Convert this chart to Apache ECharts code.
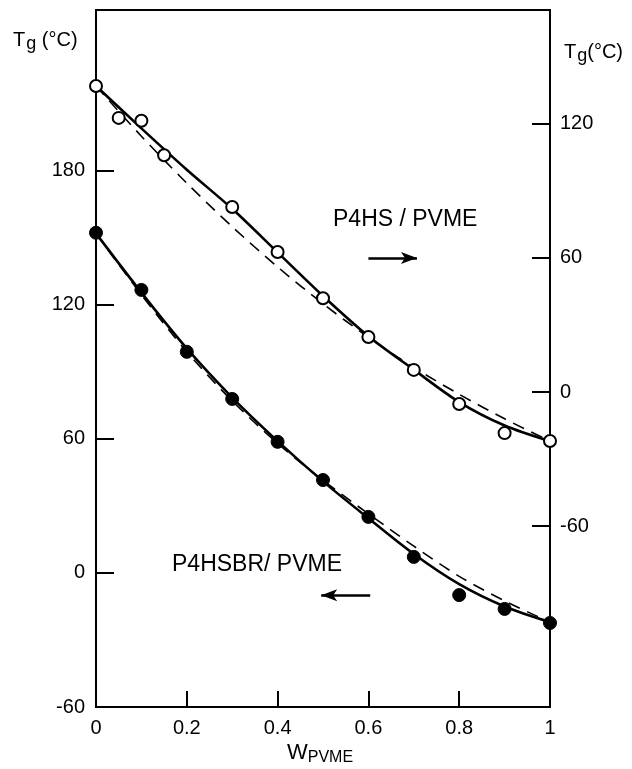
<!DOCTYPE html>
<html>
<head>
<meta charset="utf-8">
<script src="https://cdn.jsdelivr.net/npm/echarts@6/dist/echarts.min.js"></script>
<style>
html,body{margin:0;padding:0;background:#fff;}
#chart{width:632px;height:769px;}
</style>
</head>
<body>
<div id="chart"></div>
<script>
// Weight fraction of PVME
const wPVME = [0, 0.1, 0.2, 0.3, 0.4, 0.5, 0.6, 0.7, 0.8, 0.9, 1.0];

// P4HS / PVME measured points (right axis, Tg °C)
const p4hsX = [0, 0.05, 0.10, 0.15, 0.30, 0.40, 0.50, 0.60, 0.70, 0.80, 0.90, 1.00];
const p4hsTg = [137, 122.7, 121.4, 106, 82.8, 62.7, 42, 24.6, 9.9, -5.4, -18.4, -21.9];
// P4HS / PVME fitted curves
const p4hsSolid = [137, 118, 99.5, 82, 62.5, 43, 25, 10, -4.5, -15, -22];
const p4hsDashed = [137, 114.5, 93.5, 74, 56, 39.5, 24.5, 11, -1, -12, -22];

// P4HSBR / PVME measured points (left axis, Tg °C)
const brX = [0, 0.1, 0.2, 0.3, 0.4, 0.5, 0.6, 0.7, 0.8, 0.9, 1.0];
const brTg = [152.3, 126.7, 99, 77.9, 58.7, 41.6, 25.1, 7.2, -9.9, -16.1, -22.4];
// P4HSBR / PVME fitted curves
const brSolid = [152, 125.5, 100.5, 78.5, 59, 41, 24.5, 8.5, -5, -15, -22];
const brDashed = [152, 124.5, 99, 77, 58, 41.5, 26.5, 12, -1.5, -12.5, -22];

// Tick labels
const xTicks = [0, 0.2, 0.4, 0.6, 0.8, 1];
const leftTicks = [-60, 0, 60, 120, 180];
const rightTicks = [-60, 0, 60, 120];

const zip = (xs, ys) => xs.map((x, i) => [x, ys[i]]);

const FONT = 'Liberation Sans';
const chart = echarts.init(document.getElementById('chart'), null, {renderer: 'canvas'});

const option = {
  animation: false,
  backgroundColor: '#fff',
  grid: {left: 96, right: 82, top: 10, bottom: 62, show: true, borderColor: '#000', borderWidth: 2},
  xAxis: {
    type: 'value', min: 0, max: 1, interval: 0.2,
    axisLine: {show: true, onZero: false, lineStyle: {color: '#000', width: 2}},
    axisTick: {show: true, inside: true, length: 16, lineStyle: {color: '#000', width: 2}},
    axisLabel: {color: '#000', fontFamily: FONT, fontSize: 20, margin: 11,
      formatter: v => xTicks.includes(Math.round(v * 10) / 10) ? String(Math.round(v * 10) / 10) : ''},
    splitLine: {show: false}
  },
  yAxis: [
    {
      type: 'value', min: -60, max: 252, position: 'left',
      axisLine: {show: true, onZero: false, lineStyle: {color: '#000', width: 2}},
      axisTick: {show: true, inside: true, length: 18, lineStyle: {color: '#000', width: 2}, customValues: leftTicks},
      axisLabel: {color: '#000', fontFamily: FONT, fontSize: 20, margin: 11, customValues: leftTicks},
      splitLine: {show: false}
    },
    {
      type: 'value', min: -141, max: 171, position: 'right',
      axisLine: {show: true, onZero: false, lineStyle: {color: '#000', width: 2}},
      axisTick: {show: true, inside: true, length: 18, lineStyle: {color: '#000', width: 2}, customValues: rightTicks},
      axisLabel: {color: '#000', fontFamily: FONT, fontSize: 20, margin: 10, customValues: rightTicks},
      splitLine: {show: false}
    }
  ],
  series: [
    {
      type: 'line', yAxisIndex: 1, data: zip(wPVME, p4hsDashed), smooth: 0.3, showSymbol: false,
      lineStyle: {color: '#000', width: 1.6, type: [12, 8]}, z: 2
    },
    {
      type: 'line', yAxisIndex: 1, data: zip(wPVME, p4hsSolid), smooth: 0.3, showSymbol: false,
      lineStyle: {color: '#000', width: 2.6}, z: 3,
      markLine: {
        silent: true, symbol: ['none', 'arrow'], symbolSize: [9, 16],
        label: {show: false},
        lineStyle: {color: '#000', width: 2.5, type: 'solid'},
        data: [[{coord: [0.6, 60]}, {coord: [0.707, 60]}]]
      }
    },
    {
      type: 'scatter', yAxisIndex: 1, data: zip(p4hsX, p4hsTg), symbol: 'circle', symbolSize: 12,
      itemStyle: {color: '#fff', borderColor: '#000', borderWidth: 2, opacity: 1}, z: 5
    },
    {
      type: 'line', yAxisIndex: 0, data: zip(wPVME, brDashed), smooth: 0.3, showSymbol: false,
      lineStyle: {color: '#000', width: 1.6, type: [12, 8]}, z: 2
    },
    {
      type: 'line', yAxisIndex: 0, data: zip(wPVME, brSolid), smooth: 0.3, showSymbol: false,
      lineStyle: {color: '#000', width: 2.6}, z: 3,
      markLine: {
        silent: true, symbol: ['none', 'arrow'], symbolSize: [9, 16],
        label: {show: false},
        lineStyle: {color: '#000', width: 2.5, type: 'solid'},
        data: [[{coord: [0.604, -10]}, {coord: [0.496, -10]}]]
      }
    },
    {
      type: 'scatter', yAxisIndex: 0, data: zip(brX, brTg), symbol: 'circle', symbolSize: 13,
      itemStyle: {color: '#000', borderColor: '#000', borderWidth: 1, opacity: 1}, z: 5
    }
  ],
  graphic: [
    {
      type: 'text', left: 13, top: 30,
      style: {
        rich: {
          t: {fontFamily: FONT, fontSize: 20, fill: '#000'},
          g: {fontFamily: FONT, fontSize: 18, fill: '#000', padding: [8, 0, 0, 1]}
        },
        text: '{t|T}{g|g}{t| (°C)}'
      }
    },
    {
      type: 'text', left: 564, top: 42,
      style: {
        rich: {
          t: {fontFamily: FONT, fontSize: 20, fill: '#000'},
          g: {fontFamily: FONT, fontSize: 18, fill: '#000', padding: [8, 0, 0, 1]}
        },
        text: '{t|T}{g|g}{t|(°C)}'
      }
    },
    {
      type: 'text', left: 287, top: 742,
      style: {
        rich: {
          w: {fontFamily: FONT, fontSize: 22, fill: '#000'},
          s: {fontFamily: FONT, fontSize: 16, fill: '#000', padding: [9, 0, 0, 0]}
        },
        text: '{w|W}{s|PVME}'
      }
    },
    {
      type: 'text', left: 333, top: 208,
      style: {text: 'P4HS / PVME', fontFamily: FONT, fontSize: 23, fill: '#000'}
    },
    {
      type: 'text', left: 172, top: 553,
      style: {text: 'P4HSBR/ PVME', fontFamily: FONT, fontSize: 23, fill: '#000'}
    }
  ]
};
chart.setOption(option);
</script>
</body>
</html>
